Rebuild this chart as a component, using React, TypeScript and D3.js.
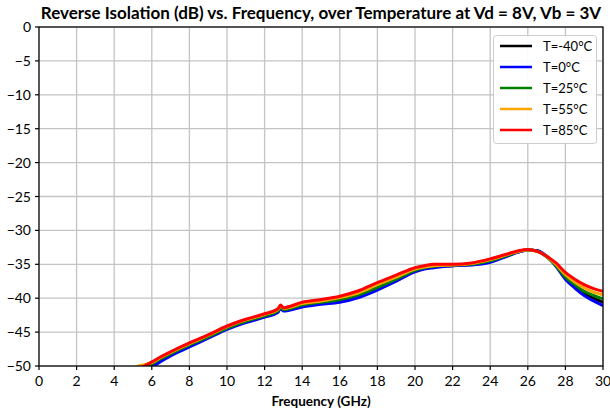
import React from "react";
import * as d3 from "d3";

const title = "Reverse Isolation (dB) vs. Frequency, over Temperature at Vd = 8V, Vb = 3V";
const xLabel = "Frequency (GHz)";
const xTicks = [0, 2, 4, 6, 8, 10, 12, 14, 16, 18, 20, 22, 24, 26, 28, 30];
const yTicks = [0, -5, -10, -15, -20, -25, -30, -35, -40, -45, -50];

const freq = [5.0, 5.3, 5.6, 6, 6.5, 7, 8, 9, 10, 11, 12, 12.7, 12.85, 13, 14, 15, 16, 17, 18, 19, 20, 20.5, 21, 22, 23, 24, 25, 25.5, 26, 26.5, 27, 27.5, 28, 28.5, 29, 29.5, 30];

const tM40 = [-51.4, -51.0, -50.6, -50.0, -49.1, -48.4, -47.1, -45.8, -44.5, -43.5, -42.7, -42.0, -41.4, -41.8, -41.2, -40.8, -40.4, -39.7, -38.6, -37.4, -36.0, -35.6, -35.4, -35.2, -35.0, -34.6, -33.6, -33.2, -32.9, -33.0, -33.8, -35.2, -37.0, -38.2, -39.3, -40.0, -40.6];
const t0 = [-51.6, -51.2, -50.8, -50.2, -49.3, -48.5, -47.2, -45.9, -44.6, -43.6, -42.8, -42.1, -41.5, -41.9, -41.3, -40.9, -40.6, -39.9, -38.8, -37.5, -36.1, -35.7, -35.5, -35.2, -35.1, -34.7, -33.7, -33.2, -32.9, -33.0, -33.8, -35.3, -37.2, -38.5, -39.6, -40.4, -41.1];
const t25 = [-51.2, -50.8, -50.4, -49.7, -48.9, -48.2, -46.9, -45.7, -44.4, -43.4, -42.6, -41.9, -41.3, -41.7, -41.0, -40.6, -40.2, -39.5, -38.4, -37.2, -35.9, -35.5, -35.3, -35.1, -35.0, -34.5, -33.6, -33.1, -32.9, -33.1, -33.9, -35.2, -36.9, -38.0, -39.0, -39.6, -40.1];
const t55 = [-50.5, -50.0, -49.8, -49.5, -48.7, -48.0, -46.7, -45.5, -44.2, -43.2, -42.4, -41.7, -41.1, -41.5, -40.8, -40.4, -39.9, -39.2, -38.0, -36.9, -35.7, -35.4, -35.2, -35.1, -34.9, -34.3, -33.5, -33.1, -32.9, -33.1, -33.8, -35.0, -36.5, -37.6, -38.5, -39.1, -39.5];
const t85 = [-50.8, -50.4, -50.0, -49.4, -48.6, -47.9, -46.6, -45.4, -44.1, -43.1, -42.3, -41.6, -41.0, -41.4, -40.6, -40.2, -39.7, -38.9, -37.7, -36.6, -35.5, -35.2, -35.0, -35.0, -34.8, -34.2, -33.4, -33.0, -32.8, -33.1, -33.8, -34.8, -36.2, -37.2, -38.0, -38.6, -39.0];

const seriesNames = ["T=-40°C", "T=0°C", "T=25°C", "T=55°C", "T=85°C"];
const seriesValues = [tM40, t0, t25, t55, t85];
const seriesColors = ["#000000", "#0000ff", "#008000", "#ffa500", "#ff0000"];

const W = 610, H = 417;
const L = 39, R = 603, T = 27, B = 366;
const FONT = "Lato, 'Open Sans', sans-serif";

export default function App() {
  const x = d3.scaleLinear().domain([0, 30]).range([L, R]);
  const y = d3.scaleLinear().domain([-50, 0]).range([B, T]);
  const line = d3
    .line<number>()
    .x((_, i) => x(freq[i]))
    .y((d) => y(d))
    .curve(d3.curveMonotoneX);

  return (
    <svg width={W} height={H} style={{ position: "absolute", left: 0, top: 0, background: "#fff" }}>
      <defs>
        <clipPath id="plotclip">
          <rect x={L} y={T} width={R - L} height={B - T} />
        </clipPath>
      </defs>
      <rect x={0} y={0} width={W} height={H} fill="#fff" />
      <text x={(L + R) / 2} y={19} textAnchor="middle" fontFamily={FONT} fontWeight="bold" fontSize={17} fill="#000">
        {title}
      </text>
      {xTicks.map((t) => (
        <line key={"gx" + t} x1={x(t)} x2={x(t)} y1={T} y2={B} stroke="#c4c4c4" strokeWidth={1.3} />
      ))}
      {yTicks.map((t) => (
        <line key={"gy" + t} x1={L} x2={R} y1={y(t)} y2={y(t)} stroke="#c4c4c4" strokeWidth={1.3} />
      ))}
      <g clipPath="url(#plotclip)">
        {seriesValues.map((vals, i) => (
          <path key={i} d={line(vals) || ""} fill="none" stroke={seriesColors[i]} strokeWidth={3} strokeLinejoin="round" />
        ))}
      </g>
      <rect x={L} y={T} width={R - L} height={B - T} fill="none" stroke="#000" strokeWidth={1.2} />
      {xTicks.map((t) => (
        <g key={"xt" + t}>
          <line x1={x(t)} x2={x(t)} y1={B} y2={B + 4} stroke="#000" strokeWidth={1.2} />
          <text x={x(t)} y={386} textAnchor="middle" fontFamily={FONT} fontSize={14} fill="#000">
            {t}
          </text>
        </g>
      ))}
      {yTicks.map((t) => (
        <g key={"yt" + t}>
          <line x1={L - 4} x2={L} y1={y(t)} y2={y(t)} stroke="#000" strokeWidth={1.2} />
          <text x={31} y={y(t) + 5} textAnchor="end" fontFamily={FONT} fontSize={14} fill="#000">
            {t < 0 ? "\u2212" + Math.abs(t) : t}
          </text>
        </g>
      ))}
      <text x={(L + R) / 2} y={406} textAnchor="middle" fontFamily={FONT} fontWeight="bold" fontSize={13.5} fill="#000">
        {xLabel}
      </text>
      <rect x={493.5} y={35.5} width={103} height={108} rx={3} fill="#fff" fillOpacity={0.9} stroke="#cccccc" strokeWidth={1} />
      {seriesNames.map((n, i) => (
        <g key={n}>
          <line x1={500} x2={532} y1={46 + i * 21} y2={46 + i * 21} stroke={seriesColors[i]} strokeWidth={2.5} />
          <text x={543} y={46 + i * 21 + 4.5} fontFamily={FONT} fontSize={13} fill="#000">
            {n}
          </text>
        </g>
      ))}
    </svg>
  );
}
